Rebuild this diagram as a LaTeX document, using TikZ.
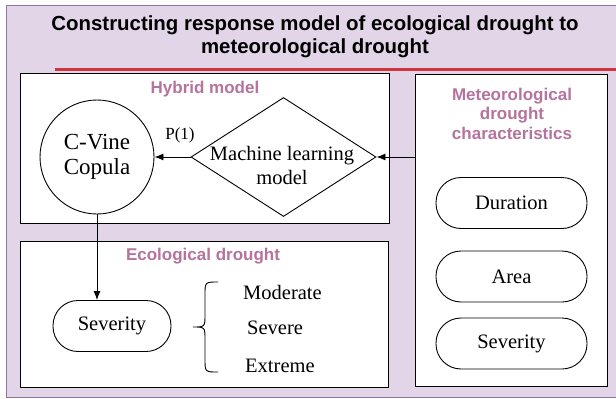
\documentclass[tikz,border=0pt]{standalone}
\usepackage{fontspec}
\setmainfont{Liberation Serif}
\newfontfamily\headfont{Liberation Sans}
\usepackage{xcolor}
\usetikzlibrary{shapes.geometric, arrows.meta}
\tikzset{>={Latex[length=9pt,width=7pt]}}
\definecolor{panelbg}{HTML}{E1D5E7}
\definecolor{panelline}{HTML}{9673A6}
\definecolor{headpink}{HTML}{B5739D}
\definecolor{linered}{HTML}{D1343C}
\tikzset{
  frame/.style={draw, line width=1pt, fill=white, inner sep=0pt},
  heading/.style={font=\headfont\bfseries\fontsize{17}{19.5}\selectfont, text=headpink, align=center},
  pill/.style={draw, line width=0.9pt, rounded corners=25pt, minimum height=51pt, font=\fontsize{20.5}{24}\selectfont},
  level/.style={anchor=west, inner sep=0pt, font=\fontsize{20.5}{24}\selectfont},
}

\begin{document}
\begin{tikzpicture}[x=1pt, y=-1pt]
		\useasboundingbox (0,0) rectangle (616,399);

		% Background
		\fill[panelbg, draw=panelline, line width=1pt] (6,5) rectangle (622,397);
		\node[font=\headfont\bfseries\fontsize{20.4}{23}\selectfont, align=center] (title) at (315,36.5) {Constructing response model of ecological drought to\\meteorological drought};
		\draw[linered, line width=3pt] (55,69) -- (616,69);

		% Frames
		\node[frame, minimum width=369pt, minimum height=150pt] (hybrid) at (204.5,148) {};
		\node[frame, minimum width=368pt, minimum height=146pt] (ecol) at (204,314) {};
		\node[frame, minimum width=192pt, minimum height=312pt] (meteo) at (511,230) {};
		\node[heading] (hybridlbl) at (205,89) {Hybrid model};
		\node[heading] (ecollbl) at (203,256) {Ecological drought};
		\node[heading] (meteolbl) at (512,113.5) {Meteorological\\drought\\characteristics};

		% Hybrid model
		\node[draw, circle, line width=0.9pt, minimum size=114pt, inner sep=0pt, align=center, font=\fontsize{23}{25}\selectfont] (copula) at (97,157) {C-Vine\\Copula};
		\node[draw, diamond, line width=0.9pt, minimum width=185pt, minimum height=119pt, inner sep=0pt] (ml) at (283.5,157) {};
		\node[align=center, font=\fontsize{20.5}{24}\selectfont] (mltext) at (282,165) {Machine learning\\model};
		\node[font=\fontsize{17}{19}\selectfont] (p1) at (180,135) {P(1)};

		% Meteorological characteristics
		\node[pill, minimum width=151pt] (duration) at (511.5,203) {Duration};
		\node[pill, minimum width=151pt] (area) at (511.5,276.5) {Area};
		\node[pill, minimum width=151pt] (sevMeteo) at (511.5,343.5) {Severity};

		% Ecological drought
		\node[pill, minimum width=118pt] (sevEco) at (112,326) {Severity};
		\draw[line width=0.9pt] (218,282) .. controls (205,282) .. (205,295) -- (205,314) .. controls (205,327) .. (193,327) .. controls (205,327) .. (205,340) -- (205,359) .. controls (205,372) .. (218,372);
		\node[level] (moderate) at (243,292) {Moderate};
		\node[level] (severe) at (247,328) {Severe};
		\node[level] (extreme) at (245,366) {Extreme};

		% Connectors
		\draw[->, line width=0.9pt] (meteo.west |- ml.east) -- (ml.east);
		\draw[->, line width=0.9pt] (ml.west) -- (copula.east);
		\draw[->, line width=0.9pt] (copula.south) -- (copula.south |- sevEco.north);

	\end{tikzpicture}
\end{document}
